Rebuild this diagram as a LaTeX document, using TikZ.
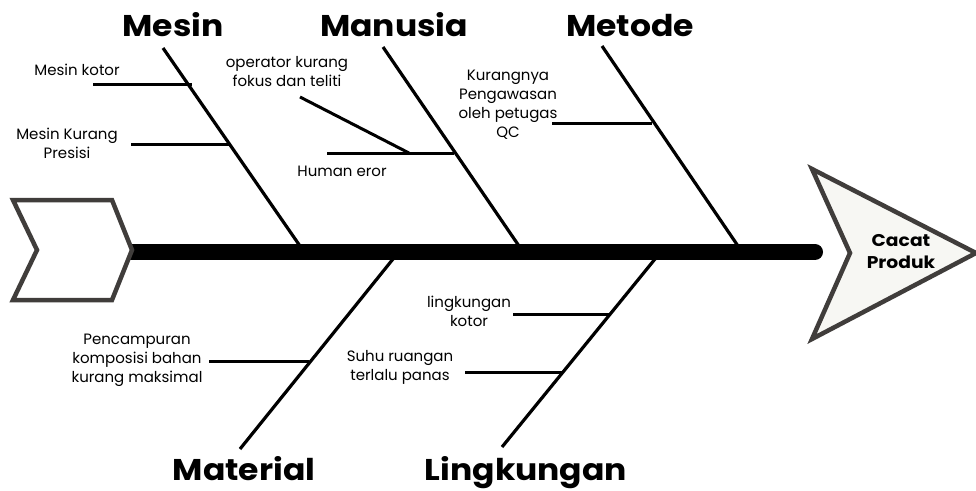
\documentclass[tikz,border=0pt]{standalone}
\usepackage{fontspec}
\setmainfont{Poppins}
\newfontfamily\catfont{Poppins}[FakeStretch=1.1]
\usetikzlibrary{calc}
\definecolor{frame}{HTML}{403D3B}
\definecolor{headfill}{HTML}{F7F7F3}
\begin{document}
\begin{tikzpicture}[x=1pt,y=-1pt,
  bone/.style={line width=3.2pt,black},
  sub/.style={line width=3pt,black},
  cat/.style={font=\catfont\bfseries\fontsize{30}{30}\selectfont,inner sep=0pt,anchor=base},
  cause/.style={font=\fontsize{15}{19}\selectfont,inner sep=0pt,align=center,anchor=center},
  shapeframe/.style={line width=4.5pt,draw=frame,line join=miter}]
\useasboundingbox[fill=white] (0,0) rectangle (976,490);
% spine
\coordinate (sp1) at (128,252);
\coordinate (sp2) at (815,252);
\draw[line width=16pt,line cap=round] (sp1) -- (sp2);
% tail chevron
\draw[shapeframe,fill=white] (13,200) -- (112,200) -- (132,250) -- (112,300) -- (13,300) -- (37,250) -- cycle;
% head
\draw[shapeframe,fill=headfill] (812,169) -- (976,253) -- (812,339) -- (850,253) -- cycle;
\node[font=\catfont\bfseries\fontsize{17}{22}\selectfont,align=center,inner sep=0pt] (head) at (901,252) {Cacat\\Produk};
% Mesin
\coordinate (m1) at (163,48); \coordinate (m2) at (300,246);
\draw[bone] (m1) -- (m2);
\node[cat] (mesin) at (173,36) {Mesin};
\coordinate (mk1) at (93,84); \coordinate (mk2) at (192,84);
\draw[sub] (mk1) -- (mk2);
\node[cause] (mkt) at (77,70) {Mesin kotor};
\coordinate (mp1) at (131,144); \coordinate (mp2) at (229,144);
\draw[sub] (mp1) -- (mp2);
\node[cause] (mpt) at (67,143) {Mesin Kurang\\Presisi};
% Manusia
\coordinate (h1) at (383,47); \coordinate (h2) at (519,246);
\draw[bone] (h1) -- (h2);
\node[cat] (manusia) at (394,36) {Manusia};
\coordinate (he1) at (327,153); \coordinate (he2) at (454,153);
\draw[sub] (he1) -- (he2);
\node[cause] (het) at (342,171) {Human eror};
\coordinate (op1) at (300,97); \coordinate (op2) at (409,153);
\draw[sub] (op1) -- (op2);
\node[cause] (opt) at (287,72) {operator kurang\\fokus dan teliti};
% Metode
\coordinate (t1) at (602,46); \coordinate (t2) at (738,246);
\draw[bone] (t1) -- (t2);
\node[cat] (metode) at (630,36) {Metode};
\coordinate (kp1) at (552,123); \coordinate (kp2) at (652,123);
\draw[sub] (kp1) -- (kp2);
\node[cause] (kpt) at (508,105) {Kurangnya\\Pengawasan\\oleh petugas\\QC};
% Material
\coordinate (a1) at (393,259); \coordinate (a2) at (240,449);
\draw[bone] (a1) -- (a2);
\node[cat] (material) at (244,480) {Material};
\coordinate (pc1) at (209,361); \coordinate (pc2) at (309,361);
\draw[sub] (pc1) -- (pc2);
\node[cause] (pct) at (137,360) {Pencampuran\\komposisi bahan\\kurang maksimal};
% Lingkungan
\coordinate (l1) at (655,259); \coordinate (l2) at (502,447);
\draw[bone] (l1) -- (l2);
\node[cat] (lingkungan) at (526,480) {Lingkungan};
\coordinate (lk1) at (513,314); \coordinate (lk2) at (611,314);
\draw[sub] (lk1) -- (lk2);
\node[cause] (lkt) at (469,311) {lingkungan\\kotor};
\coordinate (sr1) at (465,372); \coordinate (sr2) at (563,372);
\draw[sub] (sr1) -- (sr2);
\node[cause] (srt) at (400,367) {Suhu ruangan\\terlalu panas};
\end{tikzpicture}
\end{document}
